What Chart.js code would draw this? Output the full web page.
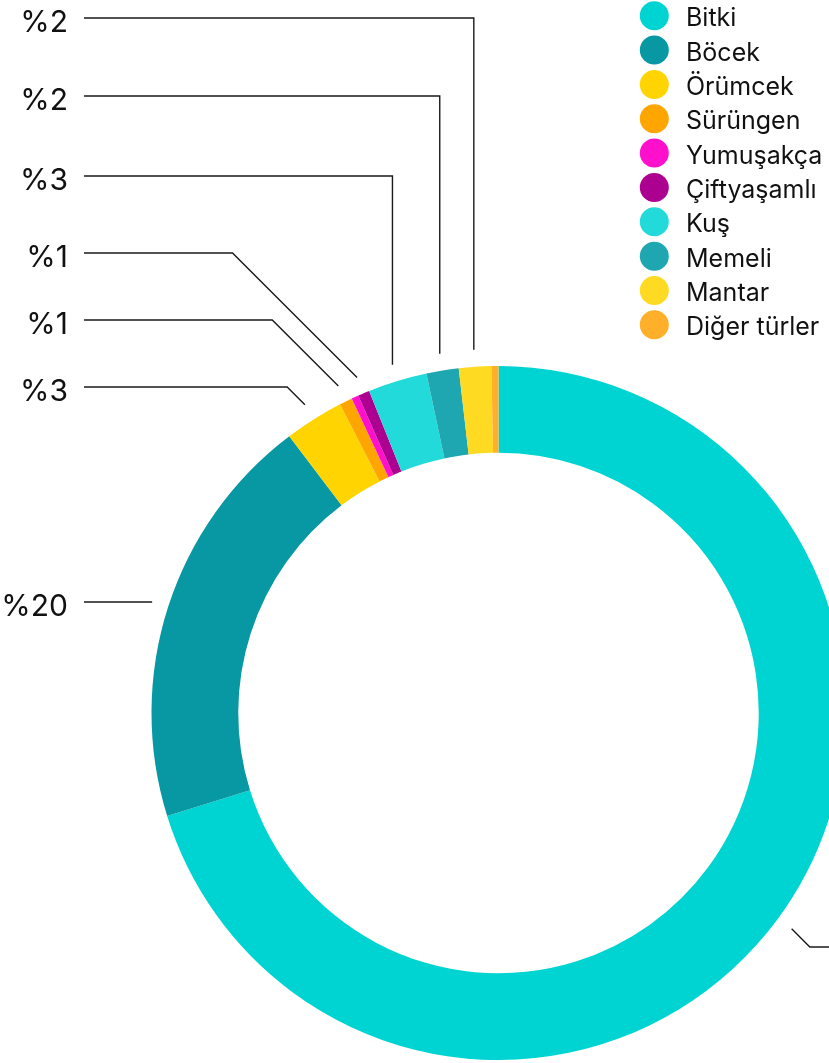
<!DOCTYPE html>
<html>
<head>
<meta charset="utf-8">
<script src="https://cdn.jsdelivr.net/npm/chart.js@4/dist/chart.umd.min.js"></script>
<style>
  html, body { margin: 0; padding: 0; background: #fff; overflow: hidden; }
  #wrap { position: absolute; left: 0; top: 0; width: 1000px; height: 1063px; }
</style>
</head>
<body>
<div id="wrap"><canvas id="c" width="1000" height="1063"></canvas></div>
<script>
// ---- data ----
const categories = ['Bitki', 'Böcek', 'Örümcek', 'Sürüngen', 'Yumuşakça', 'Çiftyaşamlı', 'Kuş', 'Memeli', 'Mantar', 'Diğer türler'];
const values = [70.2, 19.5, 2.75, 0.6, 0.33, 0.54, 2.75, 1.5, 1.5, 0.33];
const percentLabels = ['%70', '%20', '%3', '%1', '', '%1', '%3', '%2', '%2', ''];
const colors = ['#00D4D2', '#0898A4', '#FFD400', '#FFA500', '#FF10CC', '#AC0090', '#22DADA', '#1FA7B1', '#FFDA22', '#FFAF2A'];

// label layout (y of label row, leader style)
const labelRowY = [947, 602, 387, 320, null, 253, 176, 96, 18, null];
const labelMode = ['d', 'd', 'd', 'd', null, 'd', 'v', 'v', 'v', null];

const FONT = 'Inter, "Noto Sans", sans-serif';

const leaderPlugin = {
  id: 'leaders',
  afterDatasetsDraw(chart) {
    const ctx = chart.ctx;
    const meta = chart.getDatasetMeta(0);
    ctx.save();
    ctx.strokeStyle = '#1a1a1a';
    ctx.lineWidth = 1.4;
    ctx.fillStyle = '#111';
    ctx.font = '30px ' + FONT;
    meta.data.forEach((arc, i) => {
      if (!percentLabels[i]) return;
      const p = arc.getProps(['x', 'y', 'startAngle', 'endAngle', 'outerRadius'], true);
      const mid = (p.startAngle + p.endAngle) / 2;
      const r = p.outerRadius + 17;
      const px = p.x + Math.cos(mid) * r;
      const py = p.y + Math.sin(mid) * r;
      const ly = labelRowY[i];
      const rightSide = Math.cos(mid) > 0;
      let ex;
      if (labelMode[i] === 'v') ex = px;
      else ex = rightSide ? px + Math.abs(ly - py) : px - Math.abs(ly - py);
      const endX = rightSide ? chart.width : 84;
      ctx.beginPath();
      ctx.moveTo(px, py);
      ctx.lineTo(ex, ly);
      ctx.lineTo(endX, ly);
      ctx.stroke();
      ctx.textBaseline = 'alphabetic';
      if (rightSide) {
        ctx.textAlign = 'left';
        ctx.fillText(percentLabels[i], endX + 16, ly + 13.5);
      } else {
        ctx.textAlign = 'right';
        ctx.fillText(percentLabels[i], 68, ly + 13.5);
      }
    });
    // legend
    ctx.font = '25px ' + FONT;
    ctx.textAlign = 'left';
    ctx.textBaseline = 'alphabetic';
    categories.forEach((name, i) => {
      const cy = 15.7 + i * 34.35;
      ctx.beginPath();
      ctx.fillStyle = colors[i];
      ctx.arc(654.3, cy, 14.5, 0, Math.PI * 2);
      ctx.fill();
      ctx.fillStyle = '#111';
      ctx.fillText(name, 686, cy + 10.5);
    });
    ctx.restore();
  }
};

new Chart(document.getElementById('c'), {
  type: 'doughnut',
  data: {
    labels: categories,
    datasets: [{
      data: values,
      backgroundColor: colors,
      borderWidth: 0
    }]
  },
  options: {
    responsive: false,
    animation: false,
    cutout: '75%',
    layout: { padding: { left: 151.5, top: 366, right: 154.5, bottom: 3 } },
    plugins: {
      legend: { display: false },
      tooltip: { enabled: false }
    }
  },
  plugins: [leaderPlugin]
});
</script>
</body>
</html>
